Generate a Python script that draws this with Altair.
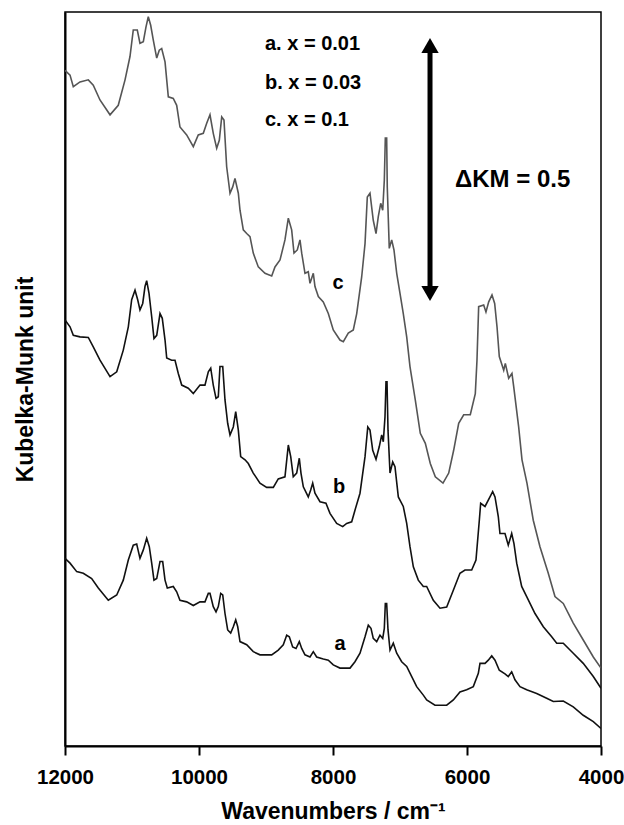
import altair as alt
import pandas as pd

# Diffuse-reflectance NIR spectra, wavenumber (cm-1) vs Kubelka-Munk value
a_wn = [12000, 11925, 11825, 11727, 11602, 11503, 11354, 11228, 11130, 11055,
        10981, 10930, 10881, 10831, 10781, 10742, 10706, 10672, 10631, 10582,
        10542, 10507, 10473, 10384, 10333, 10284, 10184, 10085, 9985, 9911,
        9861, 9836, 9787, 9746, 9712, 9676, 9646, 9612, 9572, 9527,
        9488, 9452, 9422, 9388, 9288, 9190, 9090, 8915, 8817, 8742,
        8691, 8652, 8602, 8552, 8503, 8467, 8418, 8343, 8294, 8244,
        8145, 8070, 7996, 7896, 7746, 7672, 7597, 7522, 7473, 7433,
        7399, 7348, 7299, 7258, 7234, 7219, 7199, 7179, 7149, 7100,
        7049, 6975, 6900, 6825, 6751, 6652, 6602, 6478, 6303, 6204,
        6105, 6005, 5906, 5831, 5806, 5731, 5682, 5631, 5582, 5518,
        5433, 5384, 5333, 5284, 5209, 5109, 4960, 4811, 4712, 4563,
        4414, 4265, 4115, 4000]
a_km = [0.354, 0.345, 0.329, 0.326, 0.316, 0.298, 0.275, 0.285, 0.313, 0.351,
        0.379, 0.381, 0.354, 0.370, 0.392, 0.376, 0.345, 0.313, 0.316, 0.348,
        0.348, 0.313, 0.298, 0.301, 0.291, 0.275, 0.272, 0.265, 0.272, 0.272,
        0.288, 0.288, 0.263, 0.253, 0.263, 0.288, 0.285, 0.250, 0.219, 0.213,
        0.225, 0.238, 0.225, 0.197, 0.191, 0.178, 0.172, 0.172, 0.181, 0.191,
        0.209, 0.206, 0.187, 0.184, 0.197, 0.184, 0.172, 0.168, 0.178, 0.168,
        0.164, 0.162, 0.153, 0.147, 0.147, 0.159, 0.175, 0.206, 0.228, 0.222,
        0.203, 0.197, 0.209, 0.203, 0.222, 0.269, 0.269, 0.219, 0.181, 0.194,
        0.175, 0.159, 0.150, 0.131, 0.112, 0.096, 0.087, 0.077, 0.077, 0.087,
        0.102, 0.106, 0.112, 0.137, 0.156, 0.156, 0.162, 0.170, 0.162, 0.143,
        0.136, 0.131, 0.140, 0.125, 0.112, 0.106, 0.099, 0.090, 0.084, 0.085,
        0.074, 0.058, 0.046, 0.033]

b_wn = [12000, 11925, 11876, 11776, 11652, 11578, 11478, 11328, 11228, 11130,
        11055, 11005, 10955, 10915, 10881, 10840, 10806, 10781, 10746, 10706,
        10672, 10631, 10582, 10548, 10507, 10482, 10408, 10358, 10309, 10258,
        10160, 10085, 9985, 9911, 9861, 9825, 9787, 9746, 9712, 9687,
        9646, 9612, 9572, 9537, 9488, 9452, 9413, 9378, 9313, 9264,
        9190, 9090, 8990, 8891, 8817, 8717, 8667, 8631, 8593, 8542,
        8503, 8478, 8443, 8369, 8333, 8303, 8269, 8194, 8105, 8045,
        7945, 7855, 7796, 7721, 7672, 7597, 7522, 7481, 7448, 7407,
        7358, 7309, 7273, 7249, 7224, 7209, 7194, 7179, 7149, 7109,
        7075, 7025, 6951, 6900, 6851, 6801, 6727, 6652, 6602, 6503,
        6403, 6303, 6204, 6105, 6030, 5930, 5866, 5816, 5796, 5731,
        5657, 5617, 5582, 5533, 5508, 5433, 5384, 5333, 5299, 5258,
        5184, 5109, 4985, 4861, 4736, 4661, 4563, 4414, 4265, 4115,
        4000]
b_km = [0.804, 0.791, 0.775, 0.772, 0.771, 0.753, 0.728, 0.697, 0.706, 0.747,
        0.791, 0.842, 0.860, 0.842, 0.823, 0.835, 0.867, 0.878, 0.854, 0.810,
        0.769, 0.775, 0.816, 0.807, 0.766, 0.732, 0.728, 0.728, 0.703, 0.681,
        0.675, 0.665, 0.681, 0.681, 0.706, 0.713, 0.681, 0.656, 0.659, 0.716,
        0.716, 0.653, 0.609, 0.587, 0.602, 0.631, 0.596, 0.546, 0.540, 0.533,
        0.515, 0.496, 0.488, 0.488, 0.504, 0.508, 0.568, 0.546, 0.508, 0.515,
        0.543, 0.515, 0.489, 0.470, 0.483, 0.496, 0.477, 0.461, 0.458, 0.439,
        0.420, 0.414, 0.420, 0.423, 0.445, 0.477, 0.546, 0.602, 0.596, 0.558,
        0.541, 0.565, 0.587, 0.574, 0.621, 0.687, 0.687, 0.596, 0.515, 0.536,
        0.527, 0.470, 0.452, 0.420, 0.376, 0.338, 0.313, 0.301, 0.301, 0.275,
        0.260, 0.262, 0.294, 0.326, 0.332, 0.332, 0.351, 0.426, 0.458, 0.452,
        0.470, 0.480, 0.470, 0.433, 0.401, 0.401, 0.379, 0.401, 0.382, 0.345,
        0.301, 0.282, 0.250, 0.225, 0.206, 0.194, 0.194, 0.175, 0.156, 0.131,
        0.109]

c_wn = [12000, 11925, 11876, 11776, 11652, 11578, 11478, 11328, 11205, 11104,
        11030, 10981, 10921, 10881, 10831, 10791, 10757, 10721, 10682, 10631,
        10593, 10557, 10507, 10458, 10384, 10333, 10284, 10184, 10085, 10011,
        9936, 9885, 9836, 9787, 9736, 9697, 9661, 9627, 9587, 9537,
        9497, 9463, 9413, 9388, 9339, 9288, 9239, 9190, 9115, 9015,
        8915, 8866, 8791, 8717, 8667, 8617, 8582, 8533, 8493, 8467,
        8418, 8369, 8343, 8294, 8269, 8219, 8145, 8070, 7996, 7896,
        7846, 7772, 7697, 7646, 7572, 7522, 7488, 7448, 7399, 7358,
        7324, 7288, 7258, 7234, 7219, 7199, 7190, 7160, 7124, 7090,
        7049, 7000, 6951, 6900, 6851, 6772, 6697, 6622, 6548, 6473,
        6358, 6273, 6199, 6124, 6049, 5951, 5876, 5851, 5826, 5751,
        5717, 5676, 5627, 5587, 5552, 5518, 5452, 5428, 5378, 5329,
        5303, 5229, 5179, 5105, 5011, 4911, 4787, 4687, 4563, 4414,
        4265, 4115, 4000]
c_km = [1.275, 1.266, 1.244, 1.253, 1.257, 1.247, 1.219, 1.191, 1.209, 1.257,
        1.301, 1.351, 1.351, 1.326, 1.329, 1.357, 1.376, 1.360, 1.332, 1.298,
        1.313, 1.316, 1.291, 1.225, 1.222, 1.209, 1.168, 1.153, 1.131, 1.153,
        1.156, 1.175, 1.191, 1.156, 1.128, 1.143, 1.187, 1.181, 1.093, 1.043,
        1.055, 1.071, 1.043, 1.011, 0.974, 0.967, 0.961, 0.930, 0.904, 0.892,
        0.887, 0.904, 0.917, 0.955, 0.996, 0.974, 0.930, 0.936, 0.955, 0.930,
        0.892, 0.895, 0.873, 0.892, 0.867, 0.848, 0.838, 0.816, 0.785, 0.766,
        0.763, 0.779, 0.785, 0.816, 0.885, 0.948, 1.036, 1.043, 0.992, 0.967,
        0.999, 1.024, 1.011, 1.068, 1.147, 1.147, 1.055, 0.939, 0.955, 0.936,
        0.892, 0.854, 0.816, 0.772, 0.716, 0.653, 0.590, 0.571, 0.533, 0.508,
        0.496, 0.515, 0.558, 0.609, 0.625, 0.625, 0.665, 0.728, 0.829, 0.832,
        0.819, 0.838, 0.851, 0.835, 0.791, 0.735, 0.709, 0.722, 0.694, 0.703,
        0.678, 0.602, 0.540, 0.496, 0.426, 0.376, 0.326, 0.282, 0.269, 0.232,
        0.200, 0.168, 0.147]

samples = ["a", "b", "c"]
legend_lines = ["a. x = 0.01", "b. x = 0.03", "c. x = 0.1"]
tick_values = [12000, 10000, 8000, 6000, 4000]

# scale bar: a vertical double arrow one Kubelka-Munk step long
bar_step = 0.5
bar_top = 1.338
bar_wn = 6552

FONT = "Liberation Sans"

rows = []
for name, wn, km in zip(samples, (a_wn, b_wn, c_wn), (a_km, b_km, c_km)):
    for i, (w, k) in enumerate(zip(wn, km)):
        rows.append({"sample": name, "wn": w, "km": k, "i": i})
spectra = pd.DataFrame(rows)

x_scale = alt.Scale(domain=[4000, 12000], reverse=True, nice=False, zero=False)
y_scale = alt.Scale(domain=[0, 1.385], nice=False, zero=False)

x_axis = alt.Axis(
    values=tick_values, format="d", grid=False,
    title="Wavenumbers / cm⁻¹", titleFontSize=23, titleFontWeight="bold",
    titleColor="black", titleFont=FONT, titleBaseline="alphabetic", titleY=72,
    labelFontSize=20.5, labelFontWeight="bold", labelColor="black", labelFont=FONT,
    labelBaseline="alphabetic", labelPadding=28, labelFlush=False, labelOverlap=False,
    tickSize=9, tickWidth=2, tickColor="black",
    domainColor="black", domainWidth=2,
)
y_axis = alt.Axis(
    labels=False, ticks=False, grid=False,
    title="Kubelka-Munk unit", titleFontSize=23, titleFontWeight="bold",
    titleColor="black", titleFont=FONT, titleAngle=270, titleBaseline="alphabetic",
    titleX=-33, titleY=367, domainColor="black", domainWidth=2,
)

lines = alt.Chart(spectra).mark_line(strokeWidth=1.6, clip=True).encode(
    x=alt.X("wn:Q", scale=x_scale, axis=x_axis),
    y=alt.Y("km:Q", scale=y_scale, axis=y_axis),
    color=alt.Color("sample:N", scale=alt.Scale(domain=samples,
                                                range=["#111111", "#111111", "#555555"]),
                    legend=None),
    detail="sample:N",
    order="i:Q",
)

legend_df = pd.DataFrame({"wn": [9015] * 3, "km": [1.325, 1.251, 1.181], "label": legend_lines})
legend = alt.Chart(legend_df).mark_text(
    align="left", baseline="middle", fontSize=20, fontWeight="bold", font=FONT, color="black"
).encode(x=alt.X("wn:Q", scale=x_scale), y=alt.Y("km:Q", scale=y_scale), text="label:N")

tags_df = pd.DataFrame({"wn": [7896, 7910, 7925], "km": [0.192, 0.489, 0.874], "label": samples})
tags = alt.Chart(tags_df).mark_text(
    align="center", baseline="middle", fontSize=20, fontWeight="bold", font=FONT, color="black"
).encode(x=alt.X("wn:Q", scale=x_scale), y=alt.Y("km:Q", scale=y_scale), text="label:N")

head = 0.016
bar_df = pd.DataFrame({"wn": [bar_wn], "lo": [bar_top - bar_step + head], "hi": [bar_top - head]})
shaft = alt.Chart(bar_df).mark_rule(strokeWidth=5, color="black").encode(
    x=alt.X("wn:Q", scale=x_scale), y=alt.Y("lo:Q", scale=y_scale), y2="hi:Q"
)
heads_df = pd.DataFrame({
    "wn": [bar_wn, bar_wn],
    "km": [bar_top - head, bar_top - bar_step + head],
    "shape": ["triangle-up", "triangle-down"],
})
heads = alt.Chart(heads_df).mark_point(filled=True, size=300, opacity=1, color="black").encode(
    x=alt.X("wn:Q", scale=x_scale), y=alt.Y("km:Q", scale=y_scale),
    shape=alt.Shape("shape:N", scale=None),
)

bar_label_df = pd.DataFrame({"wn": [6179], "km": [1.068], "label": [f"ΔKM = {bar_step}"]})
bar_label = alt.Chart(bar_label_df).mark_text(
    align="left", baseline="middle", fontSize=24, fontWeight="bold", font=FONT, color="black"
).encode(x=alt.X("wn:Q", scale=x_scale), y=alt.Y("km:Q", scale=y_scale), text="label:N")

chart = alt.layer(lines, legend, tags, shaft, heads, bar_label).properties(
    width=536, height=734,
    padding={"left": 65, "top": 12, "right": 23, "bottom": 79},
    autosize=alt.AutoSizeParams(type="none"),
).configure(font=FONT).configure_view(stroke="black", strokeWidth=1.5)

chart.save("out.html", embed_options={"renderer": "svg", "actions": False})
